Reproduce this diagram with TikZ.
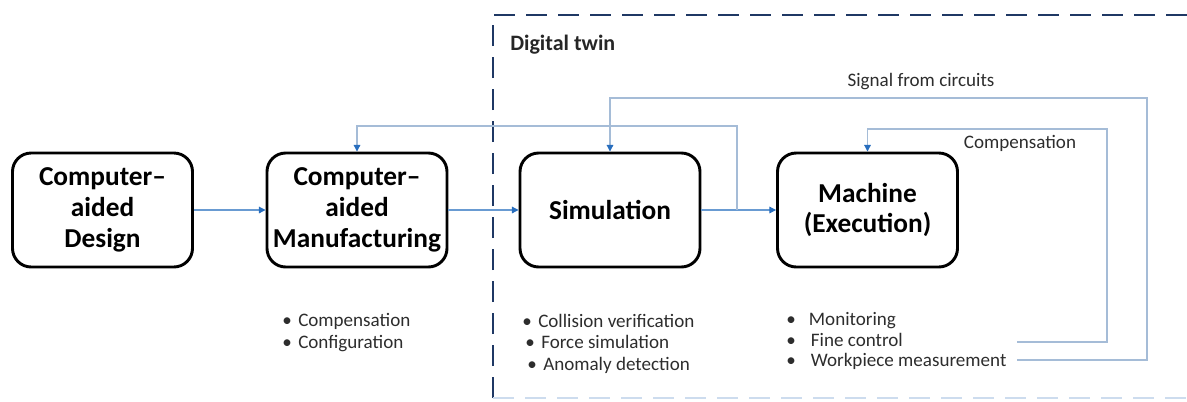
\documentclass[tikz,border=0pt]{standalone}
\usepackage{fontspec}
\setmainfont{Carlito}
\usepackage{xcolor}
\usetikzlibrary{arrows.meta}
\definecolor{twinnavy}{RGB}{31,56,100}
\definecolor{twinpale}{RGB}{205,220,238}
\definecolor{flowblue}{RGB}{105,155,210}
\definecolor{backblue}{RGB}{165,188,215}
\definecolor{tipblue}{RGB}{40,110,190}
\definecolor{listgray}{RGB}{45,45,45}
\newcommand{\dotitem}[1]{\makebox[#1][l]{\textbullet}}
\tikzset{
  stage/.style={draw,line width=2.2pt,rounded corners=14pt,minimum width=135pt,minimum height=85.5pt,align=center,inner sep=2pt,font=\fontsize{20.5}{23}\selectfont\bfseries},
  flow/.style={flowblue,line width=0.8pt,-{Triangle[length=5pt,width=5pt,color=tipblue]}},
  backflow/.style={backblue,line width=0.8pt,-{Triangle[length=5pt,width=5pt,color=tipblue]}},
  listline/.style={anchor=base west,inner sep=0pt,text=listgray,font=\fontsize{14.3}{16}\selectfont},
  tag/.style={inner sep=0pt,text=listgray,font=\fontsize{14.3}{16}\selectfont}
}

\begin{document}
\begin{tikzpicture}[x=0.75pt,y=-0.75pt]
            \clip (0,0) rectangle (1187,401);
            \draw[twinnavy,line width=2.2pt,dash pattern=on 16pt off 8pt] (493,398) -- (493,15) -- (1195,15);
            \draw[twinpale,line width=1.5pt,dash pattern=on 16pt off 8pt] (493,398) -- (1195,398);
            \node[anchor=west,inner sep=0pt,font=\fontsize{16.5}{18}\selectfont\bfseries,text=black!85] (twin) at (510,45) {Digital twin};
            \node[stage] (cad) at (102.5,210) {Computer–\\aided\\Design};
            \node[stage] (cam) at (357,210) {Computer–\\aided\\Manufacturing};
            \node[stage] (sim) at (610,210) {Simulation};
            \node[stage] (mach) at (867.5,210) {Machine\\(Execution)};
            \node[tag] (sigtext) at (921,82) {Signal from circuits};
            \node[tag] (comptext) at (1020,143) {Compensation};
            \node[listline] (camA) at (282,326) {\dotitem{12pt}Compensation};
            \node[listline] (camB) at (282,348) {\dotitem{12pt}Configuration};
            \node[listline] (simA) at (522,327) {\dotitem{12pt}Collision verification};
            \node[listline] (simB) at (525,348) {\dotitem{12pt}Force simulation};
            \node[listline] (simC) at (527,370) {\dotitem{12pt}Anomaly detection};
            \node[listline] (machA) at (786,325) {\dotitem{17pt}Monitoring};
            \node[listline] (machB) at (786,346) {\dotitem{18.5pt}Fine control};
            \node[listline] (machC) at (786,366) {\dotitem{18.5pt}Workpiece measurement};
            \coordinate (junc) at (737,210);
            \coordinate (fbtop) at (737,126);
            \coordinate (fineout) at (1017,342);
            \coordinate (workout) at (1017,360);
            \coordinate (sigcorner) at (1147,98);
            \coordinate (compcorner) at (1107,129);
            \draw[flow] (cad) -- (cam);
            \draw[flow] (cam) -- (sim);
            \draw[flow] (sim) -- (mach);
            \draw[backflow] (junc) -- (fbtop) -| (cam.north);
            \draw[backflow] (workout) -| (sigcorner) -| (sim.north);
            \draw[backflow] (fineout) -| (compcorner) -| (mach.north);
    \end{tikzpicture}
\end{document}
